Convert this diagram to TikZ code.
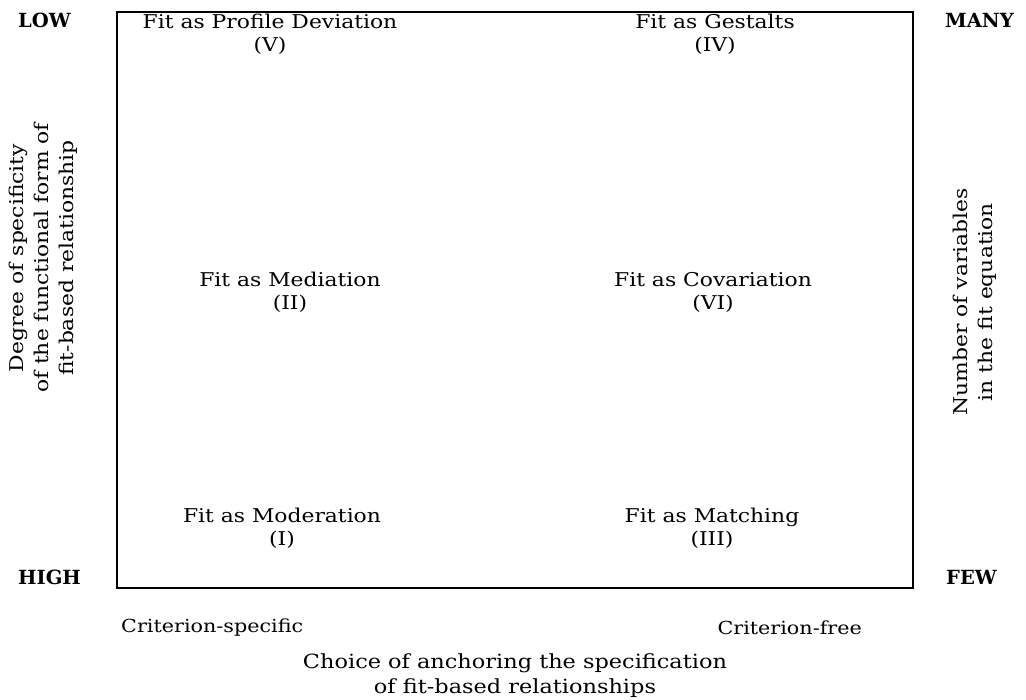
\documentclass[tikz,border=0pt]{standalone}
\usepackage{fontspec}
\setmainfont[FakeStretch=1.15]{DejaVu Serif}
\newfontfamily\headfont{DejaVu Serif}
\begin{document}
\begin{tikzpicture}[x=1pt,y=-1pt,
  cell/.style={align=center,font=\fontsize{19}{23}\selectfont,inner sep=0pt},
  endlabel/.style={font=\headfont\fontsize{19.5}{20}\selectfont\bfseries,inner sep=0pt},
  axislabel/.style={align=center,font=\fontsize{18}{25}\selectfont,inner sep=0pt}]
\useasboundingbox (0,0) rectangle (1026,700);
% quadrant frame
\node[draw,line width=1.8pt,minimum width=796pt,minimum height=576pt,inner sep=0pt] (frame) at (515,300) {};
% fit perspectives
\node[cell] (pdev) at (270,34) {Fit as Profile Deviation\\(V)};
\node[cell] (gest) at (715,34) {Fit as Gestalts\\(IV)};
\node[cell] (medi) at (290,292) {Fit as Mediation\\(II)};
\node[cell] (cova) at (713,292) {Fit as Covariation\\(VI)};
\node[cell] (mode) at (282,528) {Fit as Moderation\\(I)};
\node[cell] (matc) at (712,528) {Fit as Matching\\(III)};
% scale ends
\node[endlabel,anchor=west] (low) at (18,20) {LOW};
\node[endlabel,anchor=west] (high) at (18,577) {HIGH};
\node[endlabel,anchor=west] (many) at (945,20) {MANY};
\node[endlabel,anchor=west] (few) at (946,577) {FEW};
% horizontal axis
\node[axislabel,anchor=west] (cspec) at (121,628) {Criterion-specific};
\node[axislabel,anchor=east] (cfree) at (862,628) {Criterion-free};
\node[axislabel,font=\fontsize{19.5}{25}\selectfont] (choice) at (515,676) {Choice of anchoring the specification\\of fit-based relationships};
% vertical axes
\node[axislabel,font=\fontsize{19}{25}\selectfont,rotate=90] (degree) at (43,258) {Degree of specificity\\of the functional form of\\fit-based relationship};
\node[axislabel,font=\fontsize{19}{25}\selectfont,rotate=90] (number) at (975,302) {Number of variables\\in the fit equation};
\end{tikzpicture}
\end{document}
